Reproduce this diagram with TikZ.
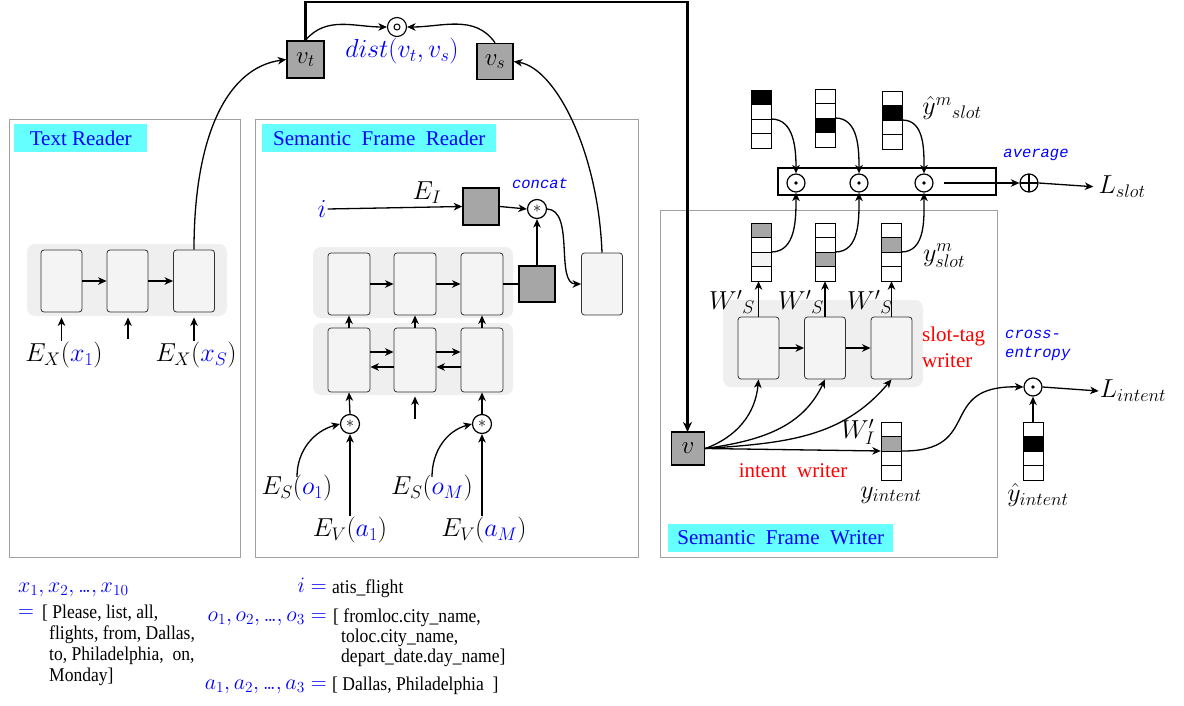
\RequirePackage{fix-cm}
\documentclass[tikz,border=0pt]{standalone}
\usepackage{fontspec}
\setmainfont{Liberation Serif}
\newfontfamily\codefont{Liberation Mono}
\newfontfamily\condfont{Liberation Serif}[FakeStretch=0.9]
\usetikzlibrary{arrows.meta,calc}
\definecolor{cyanlbl}{HTML}{66FFFF}
\definecolor{bgcol}{HTML}{EFEFEF}
\definecolor{cellcol}{HTML}{F4F4F4}
\definecolor{sqcol}{HTML}{A6A6A6}
\definecolor{framecol}{HTML}{A0A0A0}
\newcommand{\tdots}{\mathord{.\mkern-2mu.\mkern-2mu.}}
\newcommand{\vecfour}[7]{%
  \foreach \k/\f in {0/#4,1/#5,2/#6,3/#7}{%
    \filldraw[fill=\f, draw=black, line width=0.9pt] (#2,#3+\k*14.5) rectangle (#2+20,#3+\k*14.5+14.5);}
  \node[inner sep=0pt, minimum width=20pt, minimum height=58pt] (#1) at (#2+10,#3+29) {};
}
\begin{document}
\begin{tikzpicture}[x=1pt,y=-1pt,
  arr/.style={-{Stealth[length=8.5pt,width=7.5pt,inset=2.5pt]}, line width=1.3pt},
  conn/.style={line width=1.3pt},
  cell/.style={draw=black!80, line width=0.8pt, fill=cellcol, rounded corners=3pt, minimum width=41pt, minimum height=62pt, inner sep=0pt},
  bgbox/.style={fill=bgcol, rounded corners=8pt},
  gsq/.style={draw, line width=1.5pt, fill=sqcol, minimum size=36pt, inner sep=0pt, font=\fontsize{25}{28}\selectfont},
  frame/.style={draw=framecol, line width=1pt},
  lbl/.style={fill=cyanlbl, text=blue, font=\fontsize{21}{24}\selectfont, anchor=north west, inner sep=0pt, minimum height=28pt},
  mlab/.style={font=\fontsize{26}{28}\selectfont, inner sep=1pt},
  code/.style={text=blue, font=\codefont\itshape\fontsize{15.5}{19}\selectfont, inner sep=0pt},
  redt/.style={text=red, font=\fontsize{21}{26}\selectfont, inner sep=0pt},
  opc/.style={circle, draw, line width=1.2pt, minimum size=19pt, inner sep=0pt},
  bt/.style={font=\condfont\fontsize{19.5}{21}\selectfont, anchor=west, inner sep=0pt, text height=14pt, text depth=4pt},
  bm/.style={text=blue, font=\fontsize{22}{24}\selectfont, anchor=west, inner sep=0pt, text height=14pt, text depth=5pt}
]
\useasboundingbox (0,0) rectangle (1184,706);

% ---------- frames ----------
\draw[frame] (9,120) rectangle (240,557);
\draw[frame] (255,120) rectangle (638,557);
\draw[frame] (660,210) rectangle (997,557);
\node[lbl, minimum width=133pt] (trl) at (14,124) {Text Reader};
\node[lbl, minimum width=234pt] (sfrl) at (262,124) {Semantic\enspace Frame\enspace Reader};
\node[lbl, minimum width=225pt] (sfwl) at (668,524) {Semantic\enspace Frame\enspace Writer};

% ---------- Text Reader ----------
\fill[bgbox] (27,244) rectangle (227,316);
\node[cell] (t1) at (61.5,281) {};
\node[cell] (t2) at (127.5,281) {};
\node[cell] (t3) at (194,281) {};
\draw[arr] (t1.east) -- (t2.west);
\draw[arr] (t2.east) -- (t3.west);
\node[mlab] (ex1) at (64,355) {$E_X(\textcolor{blue}{x_1})$};
\node[mlab] (exs) at (196,355) {$E_X(\textcolor{blue}{x_S})$};
\coordinate (m1) at (128,339);
\draw[arr, shorten >=5pt] (ex1.north -| t1.south) -- (t1.south);
\draw[arr, shorten >=5pt] (m1) -- (m1 |- t2.south);
\draw[arr, shorten >=5pt] (exs.north -| t3.south) -- (t3.south);

% ---------- top: v_t, v_s ----------
\node[gsq, minimum size=37pt] (vt) at (305.5,59.5) {$v_t$};
\node[gsq, minimum size=36pt] (vs) at (495,61.5) {$v_s$};
\node[circle, draw, line width=1.1pt, minimum size=19pt, inner sep=0pt] (dc) at (397,27) {};
\draw[line width=1pt] (dc.center) circle (3pt);
\node[mlab, text=blue] (dist) at (402,51) {$dist(v_t,v_s)$};
\draw[arr] (vt.north) to[out=50,in=180] (dc.west);
\draw[arr] (vs.north) to[out=125,in=0] (dc.east);
\draw[arr] (t3.north) .. controls (194,140) and (225,68) .. (vt.west);

% thick line from v_t to v
\coordinate (tr) at (687.5,2);
\draw[line width=2.6pt, -{Stealth[length=10pt,width=9pt,inset=3pt]}] (vt.north) |- (tr) -- (tr |- 0,432);

% ---------- Semantic Frame Reader ----------
\fill[bgbox] (313,247) rectangle (513,318);
\fill[bgbox] (313,323) rectangle (513,395);
\node[cell, minimum width=42pt] (s1) at (349,284) {};
\node[cell, minimum width=42pt] (s2) at (415,284) {};
\node[cell, minimum width=42pt] (s3) at (482,284) {};
\node[cell, minimum width=42pt, minimum height=64pt] (b1) at (349,360) {};
\node[cell, minimum width=42pt, minimum height=64pt] (b2) at (415,360) {};
\node[cell, minimum width=42pt, minimum height=64pt] (b3) at (482,360) {};
\draw[arr] (s1.east) -- (s2.west);
\draw[arr] (s2.east) -- (s3.west);
\draw[arr] ([yshift=8pt]b1.east) -- ([yshift=8pt]b2.west);
\draw[arr] ([yshift=8pt]b2.east) -- ([yshift=8pt]b3.west);
\draw[arr] ([yshift=-7pt]b2.west) -- ([yshift=-7pt]b1.east);
\draw[arr] ([yshift=-7pt]b3.west) -- ([yshift=-7pt]b2.east);
\draw[arr] (b1.north) -- (s1.south);
\draw[arr] (b2.north) -- (s2.south);
\draw[arr] (b3.north) -- (s3.south);
\node[gsq] (sq) at (537,284) {};
\draw[conn] (s3.east) -- (sq.west);
\node[opc, font=\fontsize{16}{16}\selectfont] (cc) at (537,209) {$*$};
\draw[arr] (sq.north) -- (cc.south);
\node[gsq, minimum width=36pt, minimum height=37pt] (ei) at (481,206.5) {};
\node[mlab, text=blue] (iin) at (322,209) {$i$};
\node[mlab] (eil) at (427,193) {$E_I$};
\draw[arr] (iin.east) -- (ei.west);
\draw[arr] (ei.east) -- (cc.west);
\node[code] (concat) at (540,183) {concat};
\node[cell] (rc) at (602,284) {};
\draw[arr] (cc.east) .. controls (575,210) and (555,284) .. (rc.west);
\draw[arr] (rc.north) .. controls (598,150) and (555,68) .. (vs.east);

\node[opc, font=\fontsize{16}{16}\selectfont] (st1) at (350,424) {$*$};
\node[opc, font=\fontsize{16}{16}\selectfont] (st2) at (482,424) {$*$};
\draw[arr] (st1.north) -- (b1.south);
\draw[arr] (st2.north) -- (b3.south);
\coordinate (m2) at (415,419);
\draw[arr, shorten >=4pt] (m2) -- (m2 |- b2.south);
\node[mlab] (es1) at (297,488) {$E_S(\textcolor{blue}{o_1})$};
\node[mlab] (ev1) at (350,530) {$E_V(\textcolor{blue}{a_1})$};
\node[mlab] (esm) at (432,488) {$E_S(\textcolor{blue}{o_M})$};
\node[mlab] (evm) at (484,530) {$E_V(\textcolor{blue}{a_M})$};
\draw[arr] (ev1.north -| st1.south) -- (st1.south);
\draw[arr] (evm.north -| st2.south) -- (st2.south);
\draw[arr] ([yshift=-3pt]es1.north) to[out=90,in=195] (st1.west);
\draw[arr] ([yshift=-3pt]esm.north) to[out=90,in=195] (st2.west);

% ---------- Semantic Frame Writer ----------
\fill[bgbox] (723,300) rectangle (923,387);
\node[cell] (w1) at (758.5,348) {};
\node[cell] (w2) at (825,348) {};
\node[cell] (w3) at (891.5,348) {};
\draw[arr] (w1.east) -- (w2.west);
\draw[arr] (w2.east) -- (w3.west);
\node[gsq, minimum size=33pt] (v) at (688,448.5) {$v$};
\draw[arr] (v.east) to[out=20,in=-95] (w1.south);
\draw[arr] (v.east) to[out=8,in=-115] (w2.south);
\draw[arr] (v.east) to[out=4,in=-130] (w3.south);
\node[redt, anchor=north west, align=left] (stw) at (922,327) {slot-tag\\writer};

% y_intent
\vecfour{yint}{881}{422}{white}{sqcol}{white}{white}
\draw[arr] (v.east) -- (yint.west);
\node[mlab] (wil) at (858,432) {$W'_I$};
\node[redt] (iw) at (793,471) {intent\enspace writer};
\node[mlab] (yil) at (891,495) {$y_{intent}$};

% yhat_intent
\vecfour{yhi}{1023}{422}{white}{black}{white}{white}
\node[opc, minimum size=18pt] (io) at (1033,387) {};
\fill (io.center) circle (1.8pt);
\draw[arr] (yhi.north) -- (io.south);
\draw[arr] (yint.east) .. controls (985,452) and (935,385) .. (io.west);
\node[mlab] (Lint) at (1133,391) {$L_{intent}$};
\draw[arr] (io.east) -- (Lint.west);
\node[mlab] (yhil) at (1038,495) {$\hat{y}_{intent}$};
\node[code, anchor=north west, align=left] (ce) at (1005,330) {cross-\\entropy};

% slot vectors
\vecfour{u1}{751}{223}{sqcol}{white}{cellcol}{white}
\vecfour{u2}{815}{223}{white}{white}{sqcol}{white}
\vecfour{u3}{881}{223}{white}{sqcol}{white}{white}
\vecfour{h1}{751}{90}{black}{white}{white}{white}
\vecfour{h2}{815}{89}{white}{white}{black}{white}
\vecfour{h3}{882}{91}{white}{black}{white}{white}
\draw[arr] (w1.north) -- (w1.north |- u1.south);
\draw[arr] (w2.north) -- (w2.north |- u2.south);
\draw[arr] (w3.north) -- (w3.north |- u3.south);
\node[mlab] (ws1) at (732,302) {$W'{}_S$};
\node[mlab] (ws2) at (801,302) {$W'{}_S$};
\node[mlab] (ws3) at (870,302) {$W'{}_S$};
\node[mlab] (ysl) at (944,256) {$y^m_{slot}$};
\node[mlab] (yhsl) at (952,108) {$\hat{y}^{m}{}_{slot}$};

% average box
\node[draw, line width=2pt, minimum width=218pt, minimum height=27pt, inner sep=0pt] (avg) at (887,181.5) {};
\node[opc, minimum size=18pt] (o1) at (796,183) {};
\node[opc, minimum size=18pt] (o2) at (859,183) {};
\node[opc, minimum size=18pt] (o3) at (924,183) {};
\fill (o1.center) circle (1.8pt);
\fill (o2.center) circle (1.8pt);
\fill (o3.center) circle (1.8pt);
\draw[arr] (h1.east) to[out=0,in=90] (o1.north);
\draw[arr] (h2.east) to[out=0,in=90] (o2.north);
\draw[arr] (h3.east) to[out=0,in=90] (o3.north);
\draw[arr] (u1.east) to[out=0,in=-90] (o1.south);
\draw[arr] (u2.east) to[out=0,in=-90] (o2.south);
\draw[arr] (u3.east) to[out=0,in=-90] (o3.south);
\node[circle, draw, line width=1.2pt, minimum size=18pt, inner sep=0pt,
  path picture={\draw[line width=1.2pt] (path picture bounding box.north) -- (path picture bounding box.south) (path picture bounding box.west) -- (path picture bounding box.east);}] (op) at (1029,183) {};
\draw[arr, shorten <=10pt] (o3.east) -- (op.west);
\node[mlab] (Lslot) at (1122,187) {$L_{slot}$};
\draw[arr, shorten >=4pt] (op.east) -- (Lslot.west);
\node[code] (avgl) at (1036,155) {average};

% ---------- bottom text ----------
\node[bm] (xs) at (18,588) {$x_1,x_2,\tdots,x_{10}$};
\node[bm] (eq1) at (18,613) {$=$};
\node[bt] (l1) at (42,613) {[ Please, list, all,};
\node[bt] (l2) at (49,634) {flights, from, Dallas,};
\node[bt] (l3) at (49,655) {to, Philadelphia,\ \ on,};
\node[bt] (l4) at (49,676) {Monday]};
\node[bm, anchor=east] (il) at (327,588) {$i =$};
\node[bt] (iv) at (332,588) {atis\_flight};
\node[bm, anchor=east] (ol) at (327,617) {$o_1,o_2,\tdots,o_3 =$};
\node[bt] (ov1) at (333,617) {[ fromloc.city\_name,};
\node[bt] (ov2) at (341,637) {toloc.city\_name,};
\node[bt] (ov3) at (341,657) {depart\_date.day\_name]};
\node[bm, anchor=east] (al) at (327,685) {$a_1,a_2,\tdots,a_3 =$};
\node[bt] (av) at (332,685) {[ Dallas,\ Philadelphia\ \ ]};
\end{tikzpicture}
\end{document}
